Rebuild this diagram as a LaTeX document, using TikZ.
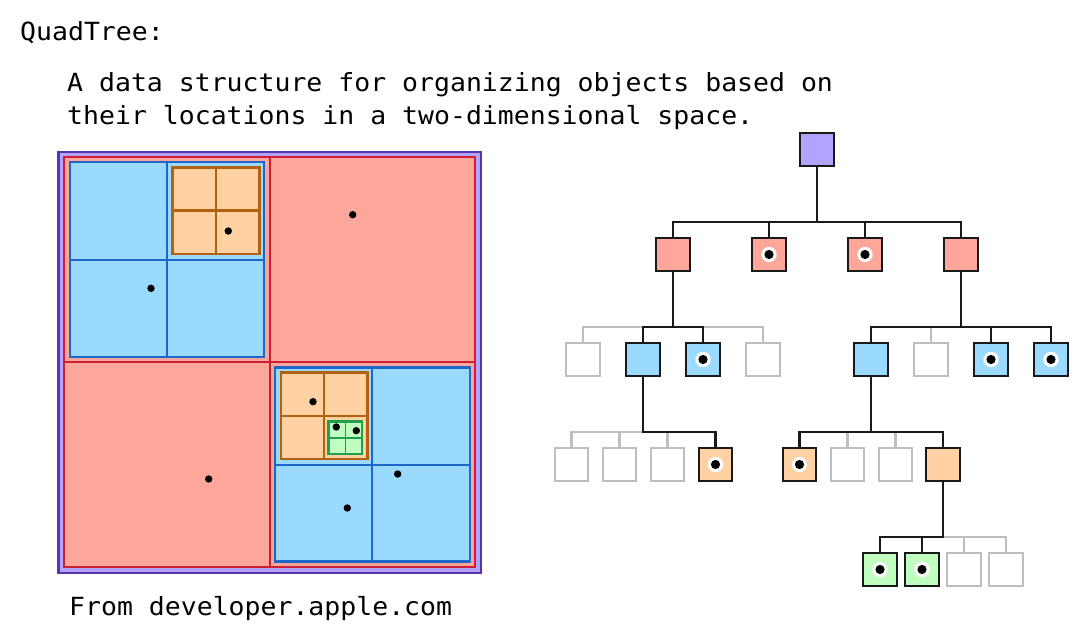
\documentclass[tikz,border=0pt]{standalone}
\usepackage{fontspec}
\usepackage{tikz}
\usetikzlibrary{positioning}
\newfontfamily\codefont[FakeStretch=1.06]{DejaVu Sans Mono}
\definecolor{qtpurple}{HTML}{B2A3FF}
\definecolor{qtpurpleline}{HTML}{5634AE}
\definecolor{qtred}{HTML}{FFA69B}
\definecolor{qtredline}{HTML}{CC1F35}
\definecolor{qtblue}{HTML}{99DAFE}
\definecolor{qtblueline}{HTML}{1E66CC}
\definecolor{qtorange}{HTML}{FFD1A3}
\definecolor{qtorangeline}{HTML}{B3600F}
\definecolor{qtgreen}{HTML}{C0FFC0}
\definecolor{qtgreenline}{HTML}{1FA050}
\definecolor{qtgray}{HTML}{BEBEBE}

\begin{document}
\begin{tikzpicture}[
  x=1pt, y=-1pt,
  cell/.style={draw=black!90, line width=2.2pt, minimum size=33.5pt, inner sep=0pt},
  empty/.style={cell, draw=qtgray, fill=white},
  hit/.style={path picture={
    \fill[white] (path picture bounding box.center) circle (7.7pt);
    \fill[black] (path picture bounding box.center) circle (4.6pt);}},
  link/.style={draw=black!90, line width=2.2pt},
  faint/.style={draw=qtgray, line width=2.2pt},
  txt/.style={font=\codefont\fontsize{25}{33.5}\selectfont, inner sep=0pt, align=left}
]
\useasboundingbox (0,0) rectangle (1081,631);
\node[txt, anchor=base west] (title) at (20,40.7) {QuadTree:};
\node[txt, anchor=base west] (desc) at (67,125)
  {A data structure for organizing objects based on\\their locations in a two-dimensional space.};
\node[txt, anchor=base west] (source) at (69,615) {From developer.apple.com};

% the plane, split into quadrants
\draw[fill=qtpurple, draw=qtpurpleline, line width=2.8pt] (58.5,152) rectangle (481,573);
\draw[fill=qtred, draw=qtredline, line width=2.2pt] (64,157) rectangle (270,362);
\draw[fill=qtred, draw=qtredline, line width=2.2pt] (270,157) rectangle (475,362);
\draw[fill=qtred, draw=qtredline, line width=2.2pt] (64,362) rectangle (270,567);
\draw[fill=qtred, draw=qtredline, line width=2.2pt] (270,362) rectangle (475,567);
\draw[fill=qtblue, draw=qtblueline, line width=2.6pt] (70,162) rectangle (264,357);
\draw[qtblueline, line width=1.8pt] (167,162) -- (167,357) (70,260) -- (264,260);
\draw[fill=qtorange, draw=qtorangeline, line width=2.6pt] (172.7,167.7) rectangle (259.3,254);
\draw[qtorangeline, line width=2.4pt] (216,167.7) -- (216,254) (172.7,210.7) -- (259.3,210.7);
\draw[fill=qtblue, draw=qtblueline, line width=2.6pt] (275,367.7) rectangle (470,561.7);
\draw[qtblueline, line width=1.8pt] (372.3,367.7) -- (372.3,561.7) (275,465) -- (470,465);
\draw[fill=qtorange, draw=qtorangeline, line width=2.6pt] (281,372.7) rectangle (367.3,459);
\draw[qtorangeline, line width=2.4pt] (324,372.7) -- (324,459) (281,415.7) -- (367.3,415.7);
\draw[fill=qtgreen, draw=qtgreenline, line width=2.6pt] (328.3,421.7) rectangle (362,454);
\draw[qtgreenline, line width=1.6pt] (345.3,421.7) -- (345.3,454) (328.3,437.7) -- (362,437.7);
% objects
\fill (228.3,231) circle (3.7pt);
\fill (352.7,214.7) circle (3.7pt);
\fill (151,288.3) circle (3.7pt);
\fill (208.7,479) circle (3.7pt);
\fill (313,401.7) circle (3.7pt);
\fill (336.3,427) circle (3.7pt);
\fill (356.3,430.7) circle (3.7pt);
\fill (397.7,474) circle (3.7pt);
\fill (347.3,508) circle (3.7pt);

% the tree
\node[cell, fill=qtpurple] (root) at (817,149.5) {};
\node[cell, fill=qtred] (r1) at (673,254.5) {};
\node[cell, fill=qtred, hit] (r2) at (769,254.5) {};
\node[cell, fill=qtred, hit] (r3) at (865,254.5) {};
\node[cell, fill=qtred] (r4) at (961,254.5) {};
\node[empty] (b1) at (583,359.5) {};
\node[cell, fill=qtblue] (b2) at (643,359.5) {};
\node[cell, fill=qtblue, hit] (b3) at (703,359.5) {};
\node[empty] (b4) at (763,359.5) {};
\node[cell, fill=qtblue] (b5) at (871,359.5) {};
\node[empty] (b6) at (931,359.5) {};
\node[cell, fill=qtblue, hit] (b7) at (991,359.5) {};
\node[cell, fill=qtblue, hit] (b8) at (1051,359.5) {};
\node[empty] (o1) at (571.5,464.5) {};
\node[empty] (o2) at (619.5,464.5) {};
\node[empty] (o3) at (667.5,464.5) {};
\node[cell, fill=qtorange, hit] (o4) at (715.5,464.5) {};
\node[cell, fill=qtorange, hit] (o5) at (799.5,464.5) {};
\node[empty] (o6) at (847.5,464.5) {};
\node[empty] (o7) at (895.5,464.5) {};
\node[cell, fill=qtorange] (o8) at (943,464.5) {};
\node[cell, fill=qtgreen, hit] (g1) at (880,569.5) {};
\node[cell, fill=qtgreen, hit] (g2) at (922,569.5) {};
\node[empty] (g3) at (964,569.5) {};
\node[empty] (g4) at (1006,569.5) {};

% empty quadrants hang off the bar in grey
\draw[faint] ([yshift=-54.3pt]r1.south) -| (b1.north);
\draw[faint] ([yshift=-54.3pt]r1.south) -| (b4.north);
\draw[faint] ([yshift=-54.3pt]r4.south) -| (b6.north);
\draw[faint] ([yshift=-54.3pt]b2.south) -| (o1.north);
\draw[faint] ([yshift=-54.3pt]b2.south) -| (o2.north);
\draw[faint] ([yshift=-54.3pt]b2.south) -| (o3.north);
\draw[faint] ([yshift=-54.3pt]b5.south) -| (o6.north);
\draw[faint] ([yshift=-54.3pt]b5.south) -| (o7.north);
\draw[faint] ([yshift=-54.3pt]o8.south) -| (g3.north);
\draw[faint] ([yshift=-54.3pt]o8.south) -| (g4.north);

\draw[link] (root.south) |- ([yshift=15pt]r1.north) -- (r1.north);
\draw[link] (root.south) |- ([yshift=15pt]r2.north) -- (r2.north);
\draw[link] (root.south) |- ([yshift=15pt]r3.north) -- (r3.north);
\draw[link] (root.south) |- ([yshift=15pt]r4.north) -- (r4.north);
\draw[link] (r1.south) |- ([yshift=15pt]b2.north) -- (b2.north);
\draw[link] (r1.south) |- ([yshift=15pt]b3.north) -- (b3.north);
\draw[link] (r4.south) |- ([yshift=15pt]b5.north) -- (b5.north);
\draw[link] (r4.south) |- ([yshift=15pt]b7.north) -- (b7.north);
\draw[link] (r4.south) |- ([yshift=15pt]b8.north) -- (b8.north);
\draw[link] (b2.south) |- ([yshift=15pt]o4.north) -- (o4.north);
\draw[link] (b5.south) |- ([yshift=15pt]o5.north) -- (o5.north);
\draw[link] (b5.south) |- ([yshift=15pt]o8.north) -- (o8.north);
\draw[link] (o8.south) |- ([yshift=15pt]g1.north) -- (g1.north);
\draw[link] (o8.south) |- ([yshift=15pt]g2.north) -- (g2.north);
\end{tikzpicture}
\end{document}
